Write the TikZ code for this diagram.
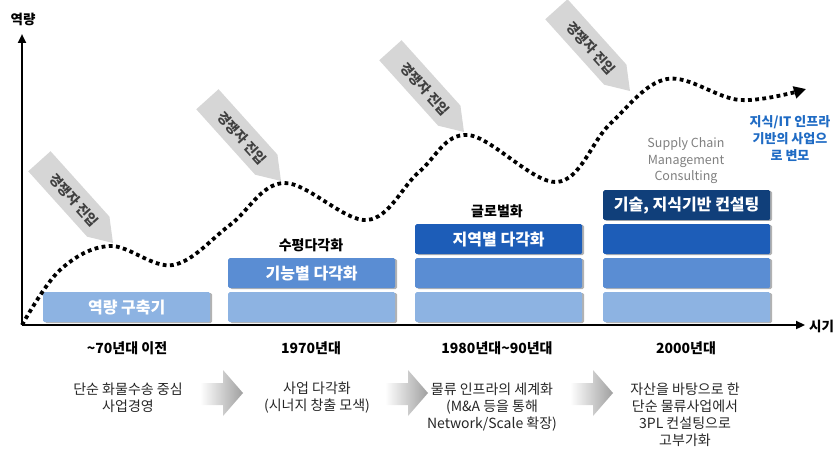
\documentclass[tikz,border=0pt]{standalone}
\usepackage{fontspec}
\setmainfont{Noto Sans CJK KR}
\usetikzlibrary{arrows.meta,shadows}
\definecolor{lightbox}{HTML}{8DB3E2}
\definecolor{midbox}{HTML}{5A8DD3}
\definecolor{darkbox}{HTML}{1D5DB8}
\definecolor{navybox}{HTML}{103F7A}
\definecolor{callgray}{HTML}{D6D6D6}
\definecolor{ittext}{HTML}{1F6BC4}
\definecolor{scmgray}{HTML}{7F7F7F}
\begin{document}
\begin{tikzpicture}[x=1pt,y=-1pt,
  bar/.style={anchor=north west, minimum width=167pt, minimum height=30pt, inner sep=0pt,
    text=white, font=\fontsize{16}{18}\selectfont\bfseries, rounded corners=1.5pt,
    drop shadow={shadow xshift=1.8pt, shadow yshift=-0.8pt, fill=gray!60, opacity=1}},
  axisline/.style={line width=2.6pt, -{Triangle[length=9pt,width=8pt]}},
  wave/.style={line width=3.8pt, dash pattern=on 3.8pt off 3.4pt, -{Triangle[length=12pt,width=12pt]}},
  period/.style={font=\fontsize{14}{16}\selectfont\bfseries},
  head/.style={font=\fontsize{14}{16}\selectfont\bfseries},
  desc/.style={align=center, font=\fontsize{14}{17}\selectfont, text=black!85},
  calltext/.style={font=\fontsize{13.5}{15}\selectfont\bfseries, text=black!75, inner sep=0pt},
  grayarr/.style={left color=white, right color=gray!75, draw=none}]
\useasboundingbox (0,0) rectangle (838,449);

% axes
\coordinate (O) at (22,325);
\coordinate (Ytop) at (22,34);
\coordinate (Xend) at (805,325);
\draw[axisline] (O) -- (Ytop);
\draw[axisline] (O) -- (Xend);
\node[head, font=\fontsize{13.5}{15}\selectfont\bfseries] (ylab) at (23,19) {역량};
\node[head, font=\fontsize{13.5}{15}\selectfont\bfseries, anchor=west, inner sep=0pt] (xlab) at (809,326) {시기};

% bars
\node[bar, fill=lightbox] (b11) at (43,292) {역량 구축기};
\node[bar, fill=lightbox] (b21) at (228,292) {};
\node[bar, fill=midbox] (b22) at (228,258) {기능별 다각화};
\node[bar, fill=lightbox] (b31) at (415,292) {};
\node[bar, fill=midbox] (b32) at (415,258) {};
\node[bar, fill=darkbox] (b33) at (415,224) {지역별 다각화};
\node[bar, fill=lightbox] (b41) at (603,292) {};
\node[bar, fill=midbox] (b42) at (603,258) {};
\node[bar, fill=darkbox] (b43) at (603,224) {};
\node[bar, fill=navybox] (b44) at (603,190) {기술, 지식기반 컨설팅};

% headings
\node[head] (h2) at (311,245) {수평다각화};
\node[head] (h3) at (497,211) {글로벌화};
\node[align=center, font=\fontsize{12.5}{16.5}\selectfont, text=scmgray] (scm) at (686,161) {Supply Chain\\Management\\Consulting};
\node[align=center, font=\fontsize{13}{17}\selectfont\bfseries, text=ittext] (it) at (790,139) {지식/IT 인프라\\기반의 사업으\\로 변모};

% callouts
\foreach \tx/\ty/\n in {113/243/1, 281/181/2, 464/132/3, 630/91/4} {
  \begin{scope}[shift={(\tx,\ty)}, rotate=-48]
    \fill[callgray] (0,0) -- (-22,15) -- (-110,15) -- (-110,-15) -- (-22,-15) -- cycle;
    \node[calltext, transform shape] (c\n) at (-58,0) {경쟁자 진입};
  \end{scope}
}

% wave
\draw[wave] plot[smooth, tension=0.6] coordinates {(22,325) (60,270) (110,246) (173,265) (230,225) (284,183) (367,220) (419,172) (468,135) (557,182) (610,124) (667,79) (740,100) (806,89)};

% periods
\node[period] (p1) at (127,348) {\char"7E 70년대 이전};
\node[period] (p2) at (311,348) {1970년대};
\node[period] (p3) at (497,348) {1980년대\char"7E 90년대};
\node[period] (p4) at (686,348) {2000년대};

% gray arrows
\foreach \x in {200,385,570} {
  \shade[grayarr] (\x,383) -- (\x+23,383) -- (\x+23,370) -- (\x+43,393) -- (\x+23,416) -- (\x+23,405) -- (\x,405) -- cycle;
}

% descriptions
\node[desc] (d1) at (128,398) {단순 화물수송 중심\\사업경영};
\node[desc] (d2) at (317,398) {사업 다각화\\(시너지 창출 모색)};
\node[desc] (d3) at (492,407) {물류 인프라의 세계화\\(M\&A 등을 통해\\Network/Scale 확장)};
\node[desc] (d4) at (685,415) {자산을 바탕으로 한\\단순 물류사업에서\\3PL 컨설팅으로\\고부가화};
\end{tikzpicture}
\end{document}
